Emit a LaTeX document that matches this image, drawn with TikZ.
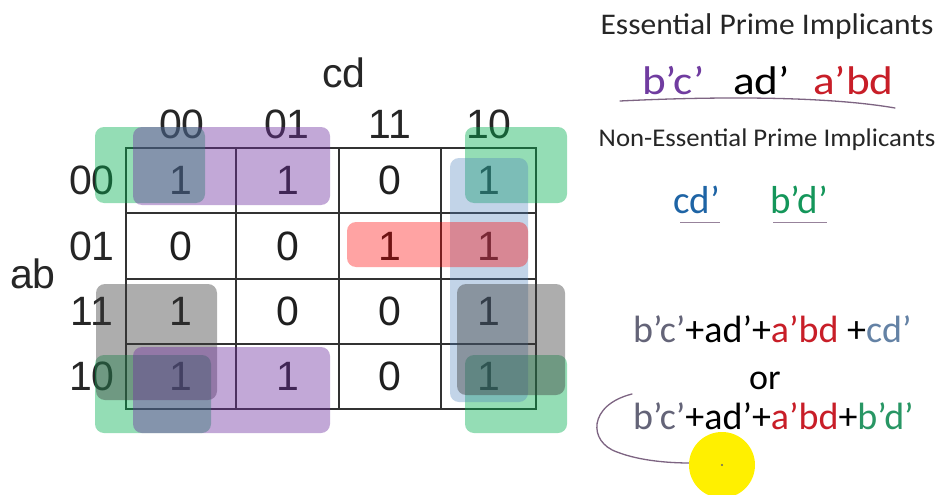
\documentclass[tikz,border=0pt]{standalone}
\usepackage{fontspec}
\setmainfont{Liberation Sans}
\newfontfamily\calfont{Carlito}
\newfontfamily\calwide[FakeStretch=1.13]{Carlito}
\newfontfamily\calhead[FakeStretch=1.05]{Carlito}
\definecolor{kgreen}{RGB}{0,176,80}
\definecolor{kpurple}{RGB}{112,48,160}
\definecolor{kgray}{RGB}{60,60,60}
\definecolor{kblue}{RGB}{79,129,189}
\definecolor{kred}{RGB}{255,0,0}
\definecolor{gridc}{RGB}{50,50,50}
\definecolor{tpurple}{RGB}{112,60,160}
\definecolor{tred}{RGB}{200,30,40}
\definecolor{tblue}{RGB}{30,100,165}
\definecolor{tgreen}{RGB}{20,150,90}
\definecolor{fgray}{RGB}{100,100,120}
\definecolor{fblue}{RGB}{100,130,165}
\definecolor{fgreen}{RGB}{40,150,100}
\definecolor{pen}{RGB}{125,100,130}
\definecolor{hl}{RGB}{255,240,0}
\begin{document}
\begin{tikzpicture}[x=1pt,y=-1pt,
  gridline/.style={draw=gridc,line width=1.4pt},
  cell/.style={inner sep=0pt,font=\fontsize{41}{41}\selectfont,text=black!88},
  hdr/.style={inner sep=0pt,font=\fontsize{41}{41}\selectfont,text=black!85},
  grp/.style={rounded corners=9pt,fill opacity=0.42},
  rtxt/.style={inner sep=0pt,anchor=base west},
  penline/.style={draw=pen,line width=1.3pt,line cap=round}]
\useasboundingbox[fill=white] (0,0) rectangle (940,495);

% grid
\draw[gridline] (126,148) rectangle (536,409);
\foreach \x in {236,339,441} \draw[gridline] (\x,148) -- (\x,409);
\foreach \y in {213,279,344} \draw[gridline] (126,\y) -- (536,\y);

% cell values
\def\cA{181}\def\cB{287.5}\def\cC{390}\def\cD{488.5}
\def\rA{180.5}\def\rB{246}\def\rC{311.5}\def\rD{376.5}
\node[cell] (m00) at (\cA,\rA) {1};
\node[cell] (m01) at (\cB,\rA) {1};
\node[cell] (m03) at (\cC,\rA) {0};
\node[cell] (m02) at (\cD,\rA) {1};
\node[cell] (m10) at (\cA,\rB) {0};
\node[cell] (m11) at (\cB,\rB) {0};
\node[cell] (m13) at (\cC,\rB) {1};
\node[cell] (m12) at (\cD,\rB) {1};
\node[cell] (m30) at (\cA,\rC) {1};
\node[cell] (m31) at (\cB,\rC) {0};
\node[cell] (m33) at (\cC,\rC) {0};
\node[cell] (m32) at (\cD,\rC) {1};
\node[cell] (m20) at (\cA,\rD) {1};
\node[cell] (m21) at (\cB,\rD) {1};
\node[cell] (m23) at (\cC,\rD) {0};
\node[cell] (m22) at (\cD,\rD) {1};

% headers
\node[hdr] (cd) at (344,73) {cd};
\node[hdr] (ab) at (33,274) {ab};
\node[hdr] (c00) at (182,124) {00};
\node[hdr] (c01) at (287,124) {01};
\node[hdr] (c11) at (390,124) {11};
\node[hdr] (c10) at (489,124) {10};
\node[hdr] (r00) at (92,180) {00};
\node[hdr] (r01) at (92,246) {01};
\node[hdr] (r11) at (92,311) {11};
\node[hdr] (r10) at (92,376) {10};

% groups
\fill[grp,kgreen] (95,127) rectangle (205,203);
\fill[grp,kgreen] (465,127) rectangle (567,203);
\fill[grp,kgreen] (95,355) rectangle (211,433);
\fill[grp,kgreen] (465,355) rectangle (567,433);
\fill[grp,kblue,fill opacity=0.34] (450,158) rectangle (528,402);
\fill[grp,kred,fill opacity=0.36] (347,222) rectangle (528,267);
\fill[grp,kgray] (96,284) rectangle (217,400);
\fill[grp,kgray] (457,284) rectangle (565,395);
\fill[grp,kpurple] (133,127) rectangle (330,205);
\fill[grp,kpurple] (133,347) rectangle (330,433);

% right side text
\node[inner sep=0pt,font=\calhead\fontsize{30}{30}\selectfont,text=black!85] (ess) at (767,27) {Essential Prime Implicants};
\node[rtxt,font=\calwide\fontsize{40}{40}\selectfont,text=tpurple] (e1) at (642,94) {b’c’};
\node[rtxt,font=\calwide\fontsize{40}{40}\selectfont,text=black] (e2) at (733,94) {ad’};
\node[rtxt,font=\calwide\fontsize{40}{40}\selectfont,text=tred] (e3) at (813,94) {a’bd};
\draw[penline] (620,101) .. controls (700,97) and (820,95) .. (895,108);

\node[inner sep=0pt,font=\calhead\fontsize{25.5}{26}\selectfont,text=black!85] (ness) at (767,140) {Non-Essential Prime Implicants};
\node[rtxt,font=\calfont\fontsize{39}{39}\selectfont,text=tblue] (n1) at (673,213) {cd’};
\node[rtxt,font=\calfont\fontsize{39}{39}\selectfont,text=tgreen] (n2) at (770,213) {b’d’};
\draw[draw=pen!80,line width=0.9pt] (680,222) -- (720,222);
\draw[draw=pen!80,line width=0.9pt] (773,222) -- (827,222);

\node[rtxt,font=\calfont\fontsize{38}{38}\selectfont] (f1) at (633,342)
  {\textcolor{fgray}{b’c’}+ad’+\textcolor{tred}{a’bd} +\textcolor{fblue}{cd’}};
\node[rtxt,font=\calfont\fontsize{36}{36}\selectfont] (or) at (749,389) {or};
\node[rtxt,font=\calfont\fontsize{38}{38}\selectfont] (f2) at (633,429)
  {\textcolor{fgray}{b’c’}+ad’+\textcolor{tred}{a’bd}+\textcolor{fgreen}{b’d’}};

% pen mark and pointer
\draw[penline] (632,394) .. controls (588,405) and (588,442) .. (617,452) .. controls (640,461) and (670,463) .. (690,463);
\fill[hl] (722,465) circle[radius=33pt];
\fill[black!60] (722,465) circle[radius=1.2pt];
\end{tikzpicture}
\end{document}
